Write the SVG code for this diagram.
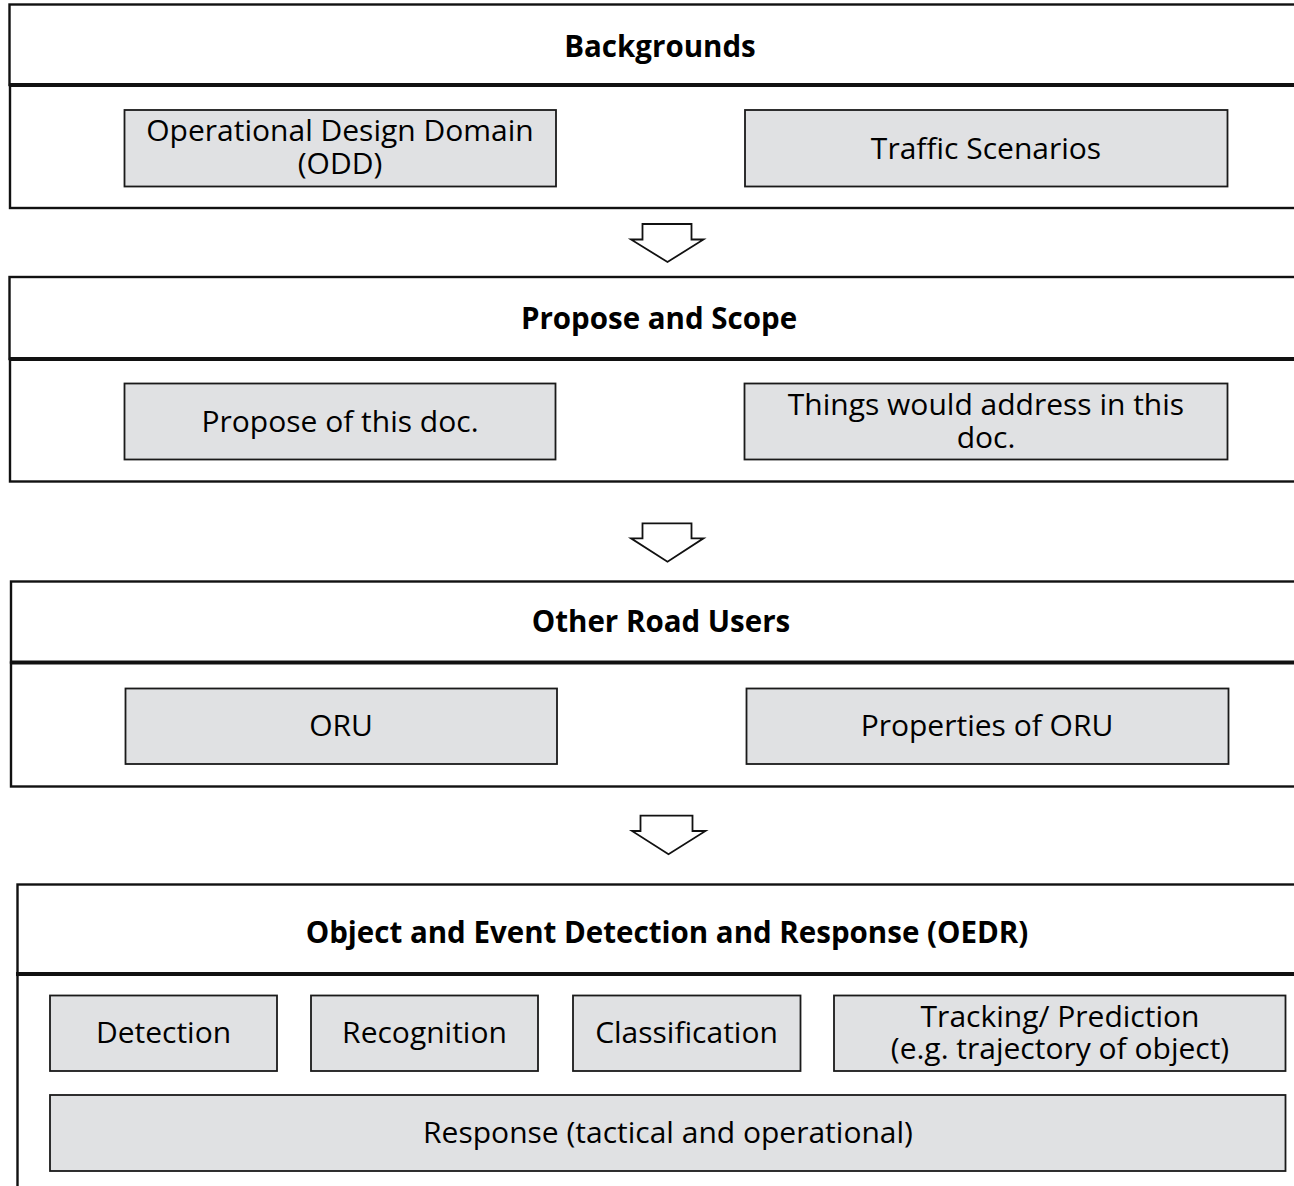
<svg xmlns="http://www.w3.org/2000/svg" width="1294" height="1186" viewBox="0 0 1294 1186">
<style>
.outer{fill:#ffffff;stroke:#111;stroke-width:2.4}
.sep{stroke:#111;stroke-width:4}
.inner{fill:#e0e1e3;stroke:#1a1a1a;stroke-width:1.8}
.hd{font-family:"Open Sans","Noto Sans",sans-serif;font-weight:bold;font-size:29.5px;fill:#000;text-anchor:middle}
.tx{font-family:"Open Sans","Noto Sans",sans-serif;font-size:30px;fill:#000;text-anchor:middle}
.arrow{fill:#fff;stroke:#111;stroke-width:1.8;stroke-linejoin:miter}
</style>
<rect width="1294" height="1186" fill="#fff"/>
<g id="backgrounds">
<rect class="outer" x="9.5" y="4.5" width="1300" height="80.5"/>
<rect class="outer" x="10" y="85" width="1300" height="123"/>
<line class="sep" x1="9" y1="85" x2="1300" y2="85"/>
<text class="hd" x="660" y="57">Backgrounds</text>
<g id="odd"><rect class="inner" x="124.5" y="110" width="431.5" height="76.5"/>
<text class="tx" x="340" y="141">Operational Design Domain<tspan x="340" dy="33">(ODD)</tspan></text></g>
<g id="traffic"><rect class="inner" x="745" y="110" width="482.5" height="76.5"/>
<text class="tx" x="986" y="159">Traffic Scenarios</text></g>
</g>
<g id="propose">
<rect class="outer" x="9.5" y="277" width="1300" height="82"/>
<rect class="outer" x="10" y="359" width="1300" height="122.5"/>
<line class="sep" x1="9" y1="359" x2="1300" y2="359"/>
<text class="hd" x="659" y="329">Propose and Scope</text>
<g id="propose-doc"><rect class="inner" x="124.5" y="383.5" width="431" height="76"/>
<text class="tx" x="340" y="432">Propose of this doc.</text></g>
<g id="things"><rect class="inner" x="744.5" y="383.5" width="483" height="76"/>
<text class="tx" x="986" y="415">Things would address in this<tspan x="986" dy="33">doc.</tspan></text></g>
</g>
<g id="oru-section">
<rect class="outer" x="11" y="581.5" width="1300" height="81"/>
<rect class="outer" x="11" y="662.5" width="1300" height="124"/>
<line class="sep" x1="10" y1="662.5" x2="1300" y2="662.5"/>
<text class="hd" x="661" y="632">Other Road Users</text>
<g id="oru"><rect class="inner" x="125.5" y="688.5" width="431.5" height="75.5"/>
<text class="tx" x="341" y="736">ORU</text></g>
<g id="properties"><rect class="inner" x="746.5" y="688.5" width="482" height="75.5"/>
<text class="tx" x="987" y="736">Properties of ORU</text></g>
</g>
<g id="oedr">
<rect class="outer" x="17.5" y="884.5" width="1300" height="89.5"/>
<rect class="outer" x="17.5" y="974" width="1300" height="240"/>
<line class="sep" x1="16" y1="974" x2="1300" y2="974"/>
<text class="hd" x="667" y="943">Object and Event Detection and Response (OEDR)</text>
<g id="detection"><rect class="inner" x="50" y="995.5" width="227" height="75.5"/>
<text class="tx" x="163.5" y="1043">Detection</text></g>
<g id="recognition"><rect class="inner" x="311" y="995.5" width="227" height="75.5"/>
<text class="tx" x="424.5" y="1043">Recognition</text></g>
<g id="classification"><rect class="inner" x="573" y="995.5" width="227.5" height="75.5"/>
<text class="tx" x="686.5" y="1043">Classification</text></g>
<g id="tracking"><rect class="inner" x="834" y="995.5" width="451.5" height="75.5"/>
<text class="tx" x="1060" y="1027">Tracking/ Prediction<tspan x="1060" dy="32">(e.g. trajectory of object)</tspan></text></g>
<g id="response"><rect class="inner" x="50" y="1095" width="1235.5" height="76"/>
<text class="tx" x="668" y="1143">Response (tactical and operational)</text></g>
</g>
<g id="connectors">
<polygon class="arrow" points="642.5,224 691.5,224 691.5,239.5 703.5,239.5 667.5,262 631,239.5 642.5,239.5"/>
<polygon class="arrow" points="642.5,523.3 691.5,523.3 691.5,538.3 703.5,538.3 667.5,561.7 631,538.3 642.5,538.3"/>
<polygon class="arrow" points="640.5,815.7 692.5,815.7 692.5,831 705.5,831 668.5,854.3 632,831 640.5,831"/>
</g>
</svg>
